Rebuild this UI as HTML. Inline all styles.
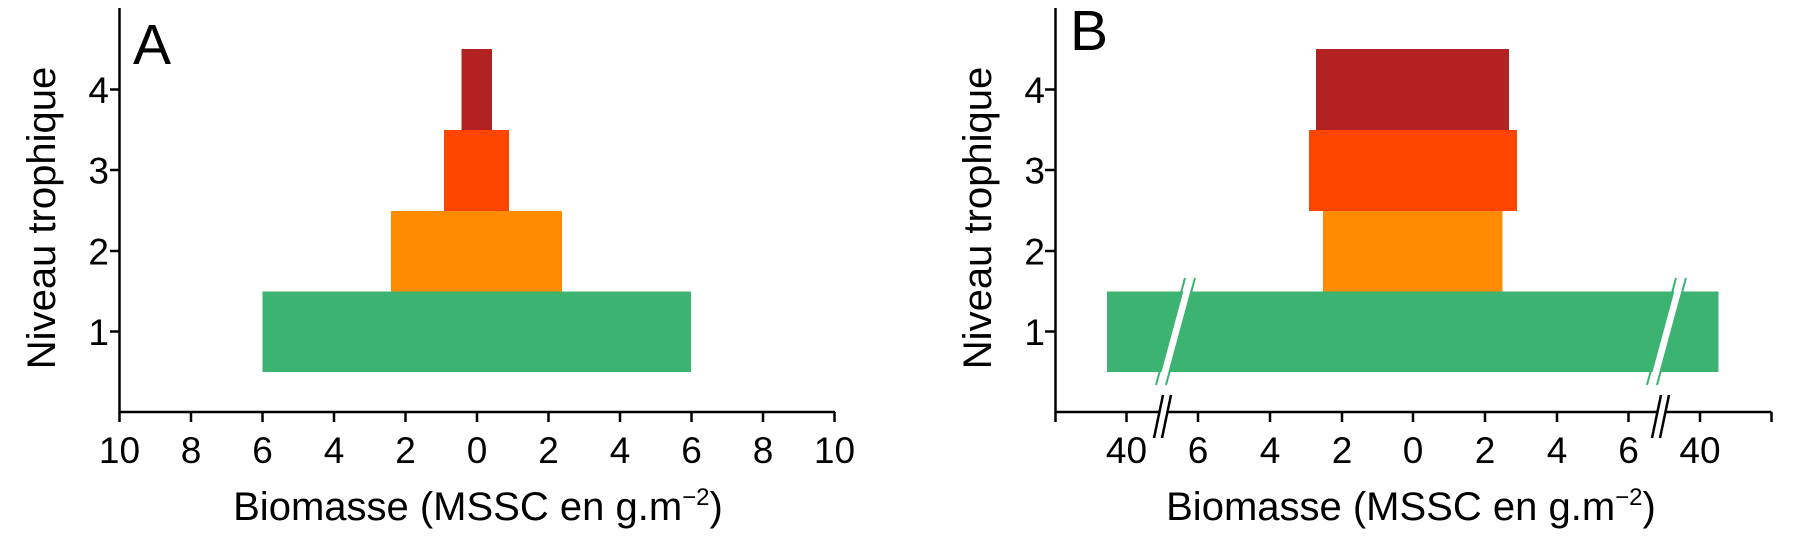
<!DOCTYPE html>
<html><head><meta charset="utf-8"><style>html,body{margin:0;padding:0;background:#fff}svg{display:block}</style></head>
<body>
<svg width="1799" height="557" viewBox="0 0 1799 557" xmlns="http://www.w3.org/2000/svg" font-family="Liberation Sans, Arial, sans-serif">
<!-- Panel A bars -->
<rect x="262.5" y="291.5" width="428.5" height="80.5" fill="#3cb371"/>
<rect x="391" y="211" width="171" height="80.5" fill="#ff8c00"/>
<rect x="444" y="130" width="65" height="81" fill="#ff4500"/>
<rect x="461.5" y="49" width="30.5" height="81" fill="#b22222"/>
<!-- Panel A axes -->
<g stroke="#000" stroke-width="2.5" fill="none">
<path d="M119.5 8 V412 H835"/>
<path d="M110 89.5H119.5M110 170H119.5M110 251H119.5M110 331.5H119.5"/>
<path d="M191 412v10M262.5 412v10M334 412v10M405.5 412v10M477 412v10M548.5 412v10M620 412v10M691.5 412v10M763 412v10M834.5 412v10M119.5 412v10"/>
</g>
<g font-size="37" text-anchor="middle" fill="#000">
<text x="119.5" y="463">10</text><text x="191" y="463">8</text><text x="262.5" y="463">6</text><text x="334" y="463">4</text><text x="405.5" y="463">2</text><text x="477" y="463">0</text><text x="548.5" y="463">2</text><text x="620" y="463">4</text><text x="691.5" y="463">6</text><text x="763" y="463">8</text><text x="834.5" y="463">10</text>
</g>
<g font-size="37" text-anchor="end" fill="#000">
<text x="109" y="103">4</text><text x="109" y="183.5">3</text><text x="109" y="264.5">2</text><text x="109" y="345">1</text>
</g>
<text x="133" y="64" font-size="57">A</text>
<text transform="translate(55,218) rotate(-90)" font-size="40" text-anchor="middle">Niveau trophique</text>
<text x="478" y="520" font-size="40" text-anchor="middle">Biomasse (MSSC en g.m<tspan font-size="24" dy="-15">−2</tspan><tspan dy="15">)</tspan></text>

<!-- Panel B bars -->
<rect x="1107" y="291.5" width="611.5" height="80.5" fill="#3cb371"/>
<rect x="1323" y="211" width="179.5" height="80.5" fill="#ff8c00"/>
<rect x="1309" y="130" width="208" height="81" fill="#ff4500"/>
<rect x="1316" y="49" width="193" height="81" fill="#b22222"/>
<!-- bar breaks -->
<polygon points="1158,385 1165,385 1194,278 1187,278" fill="#fff"/>
<polygon points="1649,385 1656,385 1685,278 1678,278" fill="#fff"/>
<g stroke="#3cb371" stroke-width="2">
<line x1="1156" y1="385" x2="1185" y2="278"/><line x1="1166" y1="385" x2="1195" y2="278"/>
<line x1="1647" y1="385" x2="1676" y2="278"/><line x1="1657" y1="385" x2="1686" y2="278"/>
</g>
<!-- Panel B axes -->
<g stroke="#000" stroke-width="2.5" fill="none">
<path d="M1055.5 8 V412 H1771.5"/>
<path d="M1045 89.5H1055.5M1045 170H1055.5M1045 251H1055.5M1045 331.5H1055.5"/>
<path d="M1055.5 412v10M1126.5 412v10M1198 412v10M1270 412v10M1342 412v10M1413 412v10M1485 412v10M1557 412v10M1628.5 412v10M1700 412v10M1771.5 412v10"/>
</g>
<rect x="1159" y="405" width="9" height="14" fill="#fff"/>
<rect x="1657" y="405" width="9" height="14" fill="#fff"/>
<g stroke="#000" stroke-width="2.5">
<line x1="1154" y1="438" x2="1163" y2="395"/><line x1="1162" y1="438" x2="1171" y2="395"/>
<line x1="1652" y1="438" x2="1661" y2="395"/><line x1="1660" y1="438" x2="1669" y2="395"/>
</g>
<g font-size="37" text-anchor="middle" fill="#000">
<text x="1126.5" y="463">40</text><text x="1198" y="463">6</text><text x="1270" y="463">4</text><text x="1342" y="463">2</text><text x="1413" y="463">0</text><text x="1485" y="463">2</text><text x="1557" y="463">4</text><text x="1628.5" y="463">6</text><text x="1700" y="463">40</text>
</g>
<g font-size="37" text-anchor="end" fill="#000">
<text x="1045" y="103">4</text><text x="1045" y="183.5">3</text><text x="1045" y="264.5">2</text><text x="1045" y="345">1</text>
</g>
<text x="1070" y="50" font-size="57">B</text>
<text transform="translate(991,218) rotate(-90)" font-size="40" text-anchor="middle">Niveau trophique</text>
<text x="1411" y="520" font-size="40" text-anchor="middle">Biomasse (MSSC en g.m<tspan font-size="24" dy="-15">−2</tspan><tspan dy="15">)</tspan></text>
</svg>
</body></html>
